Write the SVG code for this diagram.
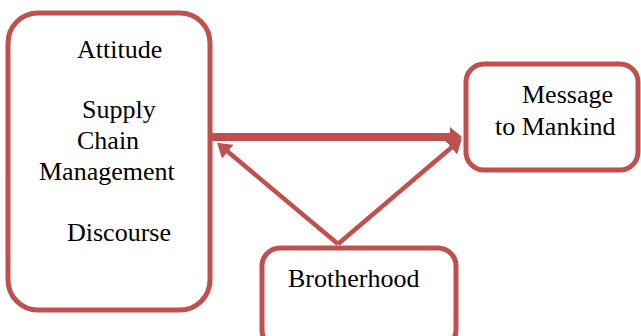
<svg xmlns="http://www.w3.org/2000/svg" width="641" height="336" viewBox="0 0 641 336">
<defs>
<style>
.box{fill:#fff;stroke:#C0504D;stroke-width:5}
.lbl{font-family:"Liberation Serif","Times New Roman",serif;font-size:26px;fill:#000}
.conn{stroke:#C0504D;fill:none}
</style>
<marker id="ahThick" markerUnits="userSpaceOnUse" viewBox="0 0 12 20" refX="1" refY="10" markerWidth="12" markerHeight="20" orient="auto"><path d="M0,0 L12,10 L0,20 z" fill="#C0504D"/></marker>
<marker id="ah" markerUnits="userSpaceOnUse" viewBox="0 0 14 18" refX="1" refY="9" markerWidth="14" markerHeight="18" orient="auto"><path d="M0,0 L14,9 L0,18 z" fill="#C0504D"/></marker>
</defs>
<rect width="641" height="336" fill="#fff"/>
<g id="connectors">
<line class="conn" x1="210" y1="137" x2="451" y2="137" stroke-width="8" marker-end="url(#ahThick)"/>
<line class="conn" x1="338" y1="244" x2="227" y2="151" stroke-width="4.5" marker-end="url(#ah)"/>
<line class="conn" x1="338" y1="244" x2="452" y2="147" stroke-width="4.5" marker-end="url(#ah)"/>
</g>
<g id="node-left">
<rect class="box" x="8" y="13" width="202" height="297" rx="30"/>
<text class="lbl" x="77" y="58">Attitude</text>
<text class="lbl" x="82" y="118">Supply</text>
<text class="lbl" x="77" y="149">Chain</text>
<text class="lbl" x="39" y="180">Management</text>
<text class="lbl" x="67" y="241">Discourse</text>
</g>
<g id="node-message">
<rect class="box" x="466" y="64" width="172" height="106" rx="18"/>
<text class="lbl" x="522" y="103">Message</text>
<text class="lbl" x="495" y="135">to Mankind</text>
</g>
<g id="node-brotherhood">
<rect class="box" x="262" y="248" width="194" height="100" rx="18"/>
<text class="lbl" x="288" y="287">Brotherhood</text>
</g>
</svg>
